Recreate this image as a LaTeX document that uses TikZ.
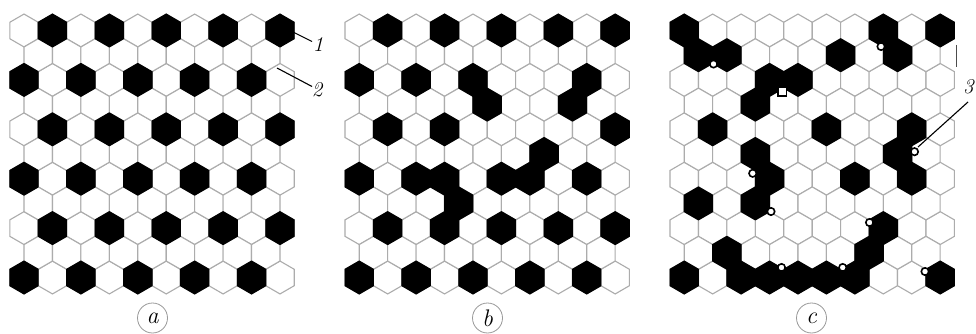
\documentclass[tikz,border=0pt]{standalone}
\usepackage{tikz}
\begin{document}
\def\hw{14.22}
\def\hR{8.22}
\def\R{16.45}
\tikzset{
  gridcell/.style={draw=gray!65, line width=1.1pt, fill=white},
  blackcell/.style={draw=black, line width=1pt, fill=black},
  lbl/.style={font=\fontsize{21}{24}\selectfont\itshape, inner sep=0pt},
  lead/.style={draw=black, line width=1.1pt},
  panellabel/.style={circle, draw=gray!80, line width=0.8pt, minimum size=30pt, inner sep=0pt, font=\fontsize{24}{26}\selectfont\itshape},
  defect/.style={draw=black, line width=1.6pt, fill=white}
}
\newcommand\hexat[3]{%
  \path[#3] (#1,#2) +(0,-\R) -- +(\hw,-\hR) -- +(\hw,\hR) -- +(0,\R) -- +(-\hw,\hR) -- +(-\hw,-\hR) -- cycle;}
\newcommand\drawpanel[2]{%
  \foreach \rw in {1,3,...,11}{\foreach \cl in {1,3,...,19}{\hexat{{#1+\cl*\hw}}{{30.5+(\rw-1)*24.7}}{gridcell}}}
  \foreach \rw in {2,4,...,10}{\foreach \cl in {2,4,...,18}{\hexat{{#1+\cl*\hw}}{{30.5+(\rw-1)*24.7}}{gridcell}}}
  \foreach \rw/\cl in {#2}{\hexat{{#1+\cl*\hw}}{{30.5+(\rw-1)*24.7}}{blackcell}}
}
\begin{tikzpicture}[x=1pt,y=-1pt]
\useasboundingbox[fill=white] (0,0) rectangle (976,334);
% panel a
\drawpanel{9.8}{1/3,1/7,1/11,1/15,1/19,
  3/1,3/5,3/9,3/13,3/17,
  5/3,5/7,5/11,5/15,5/19,
  7/1,7/5,7/9,7/13,7/17,
  9/3,9/7,9/11,9/15,9/19,
  11/1,11/5,11/9,11/13,11/17}
% panel b
\drawpanel{345}{1/3,1/7,1/11,1/15,1/19,
  3/1,3/5,3/9,3/17,
  4/10,4/16,
  5/3,5/7,5/19,
  6/14,
  7/1,7/5,7/7,7/11,7/13,7/17,
  8/8,
  9/3,9/7,9/11,9/15,9/19,
  11/1,11/5,11/9,11/13,11/17}
% panel c
\drawpanel{670}{1/1,1/15,1/19,
  2/2,2/4,2/12,2/16,
  3/7,3/9,
  4/6,
  5/3,5/11,5/17,
  6/6,6/16,
  7/7,7/13,7/17,
  8/2,8/6,
  9/15,
  10/4,10/14,
  11/1,11/5,11/7,11/9,11/11,11/13,11/19}
% defects in panel c
\foreach \px/\py in {713.5/64, 881/46.5, 752.7/173.3, 771/211.5, 869.5/222.5, 781.5/267.5, 842.7/267.5, 925/271.5, 914.5/151.7}{
  \path[defect] (\px,\py) circle (3.7);
}
\path[defect] (778,87.5) rectangle (786.5,96);
% labels 1, 2, 3
\node[lbl] (n1) at (318,45) {1};
\coordinate (p1) at (293,32);
\coordinate (q1) at (312,41.5);
\draw[lead] (p1) -- (q1);
\node[lbl] (n2) at (317,90) {2};
\coordinate (p2) at (277,68);
\coordinate (q2) at (312,86.5);
\draw[lead] (p2) -- (q2);
\node[lbl, anchor=west] (n3) at (963,87) {3};
\coordinate (p3) at (918,147);
\coordinate (q3) at (968,102);
\draw[lead] (p3) -- (q3);
\coordinate (v1) at (956,45);
\coordinate (v2) at (956,67);
\draw[draw=gray!60!black, line width=1pt] (v1) -- (v2);
% panel labels
\node[panellabel] (la) at (152.5,318) {a};
\node[panellabel] (lb) at (487.5,318) {b};
\node[panellabel] (lc) at (811.5,318) {c};
\end{tikzpicture}
\end{document}
